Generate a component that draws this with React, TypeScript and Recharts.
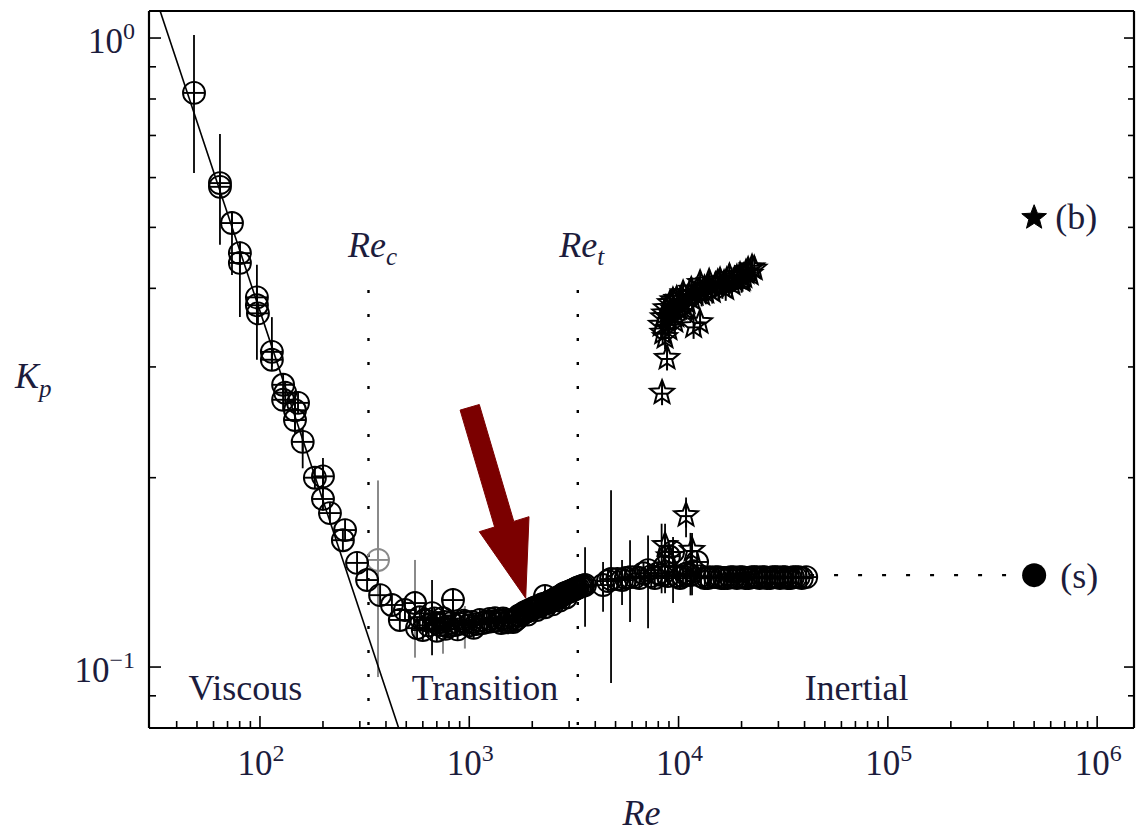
import React from 'react';
import { ScatterChart, Scatter, XAxis, YAxis, ErrorBar } from 'recharts';

const W = 1143;
const H = 833;
const FONT = '"Liberation Serif", "Times New Roman", Times, serif';
const INK = '#1c1c3c';

// ---------- axes ----------
const xDomain = [29.5, 1.5e6];
const yDomain = [0.08, 1.104];
const xMajor = [100, 1000, 10000, 100000, 1000000];
const xMajorExp = ['2', '3', '4', '5', '6'];
const xMinor = [40, 50, 60, 70, 80, 90, 200, 300, 400, 500, 600, 700, 800, 900, 2000, 3000, 4000, 5000, 6000, 7000, 8000, 9000,
  20000, 30000, 40000, 50000, 60000, 70000, 80000, 90000, 200000, 300000, 400000, 500000, 600000, 700000, 800000, 900000];
const yMajor = [0.1, 1];
const yMajorExp = ['\u22121', '0'];
const yMinor = [0.09, 0.2, 0.3, 0.4, 0.5, 0.6, 0.7, 0.8, 0.9];

// ---------- series (s): circles ----------
const viscRe = [48.4, 64.4, 64.4, 73.5, 80.2, 80.2, 96.7, 96.7, 97.8, 114, 114, 129, 132, 129, 147, 147, 152, 160, 183, 200, 200, 216, 255, 249];
const viscKp = [0.818, 0.588, 0.580, 0.508, 0.455, 0.439, 0.387, 0.376, 0.365, 0.317, 0.308, 0.281, 0.273, 0.266, 0.256, 0.247, 0.263, 0.228, 0.200, 0.201, 0.185, 0.1757, 0.1651, 0.1591];
const viscLo = [0.610, 0.469, null, 0.42, 0.360, null, 0.308, null, null, 0.30, null, null, null, null, 0.235, null, null, 0.207, null, 0.19, null, null, null, null];
const viscHi = [1.011, 0.704, null, 0.53, 0.475, null, 0.436, null, null, 0.36, null, null, null, null, 0.275, null, null, 0.24, null, 0.215, null, null, null, null];

const transRe = [291, 325, 375, 427, 466, 493, 563, 614, 664, 700, 725, 790, 836, 855, 900, 1000, 1030, 1080, 1124, 1214, 1280, 1327, 1420, 1481, 1560, 1619,
  1700, 1741, 1800, 1883, 1960, 2059, 2150, 2250, 2301, 2350, 2437, 2540, 2636, 2750, 2854, 2970, 3090, 3200, 3305, 3440, 3575,
  580, 640, 680, 760, 820, 940, 1160, 1250, 1380, 1450, 1520, 1660, 1720, 1840, 1920, 2000, 2100, 2200, 2400, 2490, 2590, 2700, 2800, 2910,
  3030, 3150, 3250, 3380, 3500, 1900, 2100, 2300, 2500, 2700, 2900, 600, 700, 770, 880, 1050];
const transKp = [0.1464, 0.1375, 0.1301, 0.1255, 0.1188, 0.1232, 0.1153, 0.1188, 0.1218, 0.1175, 0.1166, 0.1160, 0.1278, 0.1166, 0.1172, 0.1165, 0.1179, 0.1170,
  0.1188, 0.1179, 0.1182, 0.1196, 0.1175, 0.1188, 0.1185, 0.1179, 0.1195, 0.1209, 0.1215, 0.1225, 0.1232, 0.1244, 0.1250, 0.1260, 0.1297, 0.1265, 0.1272,
  0.1280, 0.1290, 0.1298, 0.1310, 0.1316, 0.1324, 0.1330, 0.1338, 0.1344, 0.1350,
  0.1200, 0.1165, 0.1195, 0.1180, 0.1175, 0.1185, 0.1175, 0.1192, 0.1185, 0.1195, 0.1178, 0.1188, 0.1205, 0.1222, 0.1230, 0.1238, 0.1246, 0.1255,
  0.1268, 0.1275, 0.1285, 0.1292, 0.1304, 0.1312, 0.1320, 0.1327, 0.1334, 0.1341, 0.1347, 0.1212, 0.1232, 0.1245, 0.1258, 0.1275, 0.1290,
  0.1145, 0.1142, 0.1150, 0.1148, 0.1155];
const transLo = [null, null, null, null, null, null, null, null, 0.1044, null, null, null, 0.118, null, null, null, null, null, null, null, null, null, null, null,
  null, null, null, null, null, null, null, null, null, null, null, null, null, null, null, null, null, null, null, null, null, null, 0.1159];
const transHi = [null, null, null, null, null, null, null, null, 0.1375, null, null, null, 0.1335, null, null, null, null, null, null, null, null, null, null, null,
  null, null, null, null, null, null, null, null, null, null, null, null, null, null, null, null, null, null, null, null, null, null, 0.155];

const grayBarRe = [550.6, 749, 953];
const grayBarKp = [0.1264, 0.1196, 0.1179];
const grayBarLo = [0.1035, 0.105, 0.107];
const grayBarHi = [0.148, 0.130, 0.125];

const grayRe = [366.4];
const grayKp = [0.148];
const grayLo = [0.0964];
const grayHi = [0.198];

const inertRe = [4358, 4758, 5370, 5864, 6500, 7149, 7700, 8300, 8900, 9412, 10160, 10800, 11400, 12260, 13350, 14100, 14960, 16000, 17130, 18300,
  19560, 20900, 22390, 23700, 25070, 26500, 28080, 29700, 31440, 33300, 35210, 37500, 40730,
  4600, 5100, 5600, 6200, 6800, 7400, 8000, 8600, 9000, 9800, 10500, 11000, 11800, 12800, 13800, 15500, 16500, 17700, 19000, 20200, 21600, 23000,
  24400, 25800, 27300, 28900, 30500, 32300, 34200, 36300, 38800];
const inertKp = [0.135, 0.138, 0.1375, 0.139, 0.1385, 0.1426, 0.1385, 0.140, 0.1395, 0.1524, 0.1385, 0.1405, 0.140, 0.1469, 0.1385, 0.139, 0.139, 0.1385,
  0.1385, 0.139, 0.139, 0.1385, 0.139, 0.139, 0.139, 0.1385, 0.139, 0.139, 0.139, 0.1385, 0.139, 0.139, 0.139,
  0.137, 0.138, 0.1385, 0.139, 0.141, 0.1395, 0.141, 0.1445, 0.150, 0.1395, 0.1395, 0.141, 0.142, 0.1395, 0.1385, 0.139, 0.1385, 0.139, 0.1385, 0.139,
  0.1385, 0.139, 0.1385, 0.139, 0.1385, 0.139, 0.1385, 0.139, 0.1385, 0.139, 0.1385];
const inertLo = [0.1224, 0.0943, 0.1255, 0.1179, null, 0.1153, null, 0.131, null, 0.1264, null, null, 0.130];
const inertHi = [0.1469, 0.191, 0.148, 0.1591, null, 0.1619, null, 0.169, null, 0.161, null, null, 0.1634];

// ---------- series (b): stars ----------
const starRe = [8339, 8810, 8620, 8432, 8250, 8700, 9108, 9500, 9800, 10000, 10510, 11000, 11500, 11800, 12000, 12670, 12670, 13300, 14000, 15000,
  15790, 16500, 17500, 18500, 19670, 20500, 21500, 22450, 10400, 13500, 16800, 20000,
  8400, 8550, 8900, 9200, 9400, 9700, 10200, 10700, 11200, 11600, 12300, 12900, 13800, 14500, 15400, 16200, 17000, 18000, 19000, 20200, 21000,
  22000, 23000, 9000, 9600];
const starKp = [0.273, 0.310, 0.3347, 0.360, 0.350, 0.372, 0.379, 0.370, 0.385, 0.372, 0.393, 0.380, 0.398, 0.348, 0.392, 0.408, 0.3535, 0.400, 0.410, 0.405,
  0.412, 0.408, 0.418, 0.413, 0.420, 0.418, 0.428, 0.432, 0.378, 0.395, 0.400, 0.412,
  0.340, 0.365, 0.360, 0.365, 0.383, 0.362, 0.383, 0.372, 0.390, 0.385, 0.398, 0.392, 0.402, 0.396, 0.409, 0.403, 0.412, 0.407, 0.416, 0.414, 0.424,
  0.422, 0.430, 0.345, 0.355];
const starLowRe = [8620, 10860, 11600, 9000];
const starLowKp = [0.1563, 0.1744, 0.1535, 0.150];
const starLowLo = [0.131, 0.1608, 0.130, null];
const starLowHi = [0.169, 0.186, 0.1634, null];

// ---------- lines & annotations ----------
const lawRe = [30, 500];
const lawKp = [1.227, 0.0736];
const critRe = [330, 3300];
const critSub = ['c', 't'];
const critTopKp = 0.3975;
const critLabelKp = 0.4485;
const plateauRe = [42500, 500000];
const plateauKp = [0.14, 0.14];
const legendRe = 500000;
const legendStarKp = 0.518;
const legendCircleKp = 0.14;
const regimeText = ['Viscous', 'Transition', 'Inertial'];
const regimeRe = [85.2, 1189, 70920];
const regimeKp = [0.0886, 0.0886, 0.0886];
const arrowTipRe = 1861;
const arrowTipKp = 0.1286;

type Pt = { x: number; y: number; err?: [number, number]; label?: string };
const build = (re: number[], kp: number[], lo?: (number | null)[], hi?: (number | null)[]): Pt[] =>
  re.map((x, i) => {
    const p: Pt = { x, y: kp[i] };
    const l = lo ? lo[i] : null;
    const h = hi ? hi[i] : null;
    if (l != null && h != null) p.err = [kp[i] - l, h - kp[i]];
    return p;
  });

const viscData = build(viscRe, viscKp, viscLo, viscHi);
const transData = build(transRe, transKp, transLo, transHi);
const grayBarData = build(grayBarRe, grayBarKp, grayBarLo, grayBarHi);
const grayData = build(grayRe, grayKp, grayLo, grayHi);
const inertData = build(inertRe, inertKp, inertLo, inertHi);
const starData = build(starRe, starKp);
const starLowData = build(starLowRe, starLowKp, starLowLo, starLowHi);
const lawData = build(lawRe, lawKp);
const plateauData = build(plateauRe, plateauKp);
const critLines = critRe.map((r) => [{ x: r, y: critTopKp }, { x: r, y: yDomain[0] }]);
const critLabelData = critRe.map((r, i) => ({ x: r, y: critLabelKp, label: critSub[i] }));
const regimeData = regimeText.map((t, i) => ({ x: regimeRe[i], y: regimeKp[i], label: t }));

// ---------- shapes ----------
const Empty = () => <g />;

const circleCross = (color: string) => (props: any) => {
  const { cx, cy } = props;
  if (cx == null || cy == null) return <g />;
  const r = 11;
  return (
    <g stroke={color} strokeWidth={1.9} fill="none">
      <circle cx={cx} cy={cy} r={r} />
      <line x1={cx - r} x2={cx + r} y1={cy} y2={cy} />
      <line x1={cx} x2={cx} y1={cy - r} y2={cy + r} />
    </g>
  );
};

const starPath = (cx: number, cy: number, R: number, r: number) => {
  let d = '';
  for (let i = 0; i < 10; i++) {
    const a = -Math.PI / 2 + (i * Math.PI) / 5;
    const rad = i % 2 === 0 ? R : r;
    d += (i === 0 ? 'M' : 'L') + (cx + rad * Math.cos(a)).toFixed(2) + ',' + (cy + rad * Math.sin(a)).toFixed(2);
  }
  return d + 'Z';
};

const OpenStar = (props: any) => {
  const { cx, cy } = props;
  if (cx == null || cy == null) return <g />;
  const R = 12.5;
  return (
    <g stroke="#000" strokeWidth={2} fill="none">
      <path d={starPath(cx, cy, R, 5.4)} />
      <line x1={cx} x2={cx} y1={cy - R} y2={cy + R} />
      <line x1={cx - 6} x2={cx + 6} y1={cy + 1} y2={cy + 1} />
    </g>
  );
};

const LegendStar = (props: any) => {
  const { cx, cy } = props;
  return (
    <g>
      <path d={starPath(cx, cy, 13, 5.6)} fill="#000" stroke="#000" strokeWidth={1} />
      <text x={cx + 21} y={cy + 11} fontFamily={FONT} fontSize={36} fill={INK}>(b)</text>
    </g>
  );
};

const LegendCircle = (props: any) => {
  const { cx, cy } = props;
  return (
    <g>
      <circle cx={cx} cy={cy} r={12} fill="#000" />
      <text x={cx + 26} y={cy + 13} fontFamily={FONT} fontSize={36} fill={INK}>(s)</text>
    </g>
  );
};

const labelOf = (props: any) => (props.payload && props.payload.label) || props.label || '';

const RegimeText = (props: any) => (
  <text x={props.cx} y={props.cy} textAnchor="middle" fontFamily={FONT} fontSize={36} fill={INK}>{labelOf(props)}</text>
);

const CritText = (props: any) => (
  <text x={props.cx + 4} y={props.cy} textAnchor="middle" fontFamily={FONT} fontStyle="italic" fontSize={36} fill={INK}>
    Re<tspan dy={8} fontSize={25}>{labelOf(props)}</tspan>
  </text>
);

const Arrow = (props: any) => {
  const { cx, cy } = props;
  const pts = [
    [-65.6, -188.2], [-46.4, -193.8], [-11.9, -76.9], [3.3, -81.6], [0, 0], [-46.4, -66.6], [-31.1, -71.3],
  ].map(([dx, dy]) => `${(cx + dx).toFixed(1)},${(cy + dy).toFixed(1)}`).join(' ');
  return <polygon points={pts} fill="#7b0000" stroke="#7b0000" strokeWidth={1} />;
};

// ---------- ticks ----------
const xTick = (side: 'bottom' | 'top') => (props: any) => {
  const { x, y, payload } = props;
  const idx = xMajor.indexOf(payload.value);
  const major = idx >= 0;
  const len = side === 'bottom' ? (major ? 12 : 7) : (major ? 10 : 6);
  const dir = side === 'bottom' ? -1 : 1;
  return (
    <g>
      <line x1={x} x2={x} y1={y} y2={y + dir * len} stroke="#000" strokeWidth={1.6} />
      {side === 'bottom' && major ? (
        <text x={x + 1} y={y + 47} textAnchor="middle" fontFamily={FONT} fontSize={35} fill={INK}>
          10<tspan dy={-14} fontSize={24}>{xMajorExp[idx]}</tspan>
        </text>
      ) : null}
    </g>
  );
};

const yTick = (side: 'left' | 'right') => (props: any) => {
  const { x, y, payload } = props;
  const idx = yMajor.indexOf(payload.value);
  const major = idx >= 0;
  const len = side === 'left' ? (major ? 12 : 7) : (major ? 10 : 6);
  const dir = side === 'left' ? 1 : -1;
  return (
    <g>
      <line x1={x} x2={x + dir * len} y1={y} y2={y} stroke="#000" strokeWidth={1.6} />
      {side === 'left' && major ? (
        <text x={x - 14} y={y + 15} textAnchor="end" fontFamily={FONT} fontSize={35} fill={INK}>
          10<tspan dy={-14} fontSize={24}>{yMajorExp[idx]}</tspan>
        </text>
      ) : null}
    </g>
  );
};

const xTicks = [...xMinor, ...xMajor].sort((a, b) => a - b);
const yTicks = [...yMinor, ...yMajor].sort((a, b) => a - b);

const ReTitle = (props: any) => {
  const vb = props.viewBox || {};
  return (
    <text x={vb.x + vb.width / 2} y={vb.y + 97} textAnchor="middle" fontFamily={FONT} fontStyle="italic" fontSize={36} fill={INK}>Re</text>
  );
};

const KpTitle = (props: any) => {
  const vb = props.viewBox || {};
  return (
    <text x={vb.x + 15} y={vb.y + vb.height / 2 + 18.5} fontFamily={FONT} fontStyle="italic" fontSize={36} fill={INK}>
      K<tspan dy={9} fontSize={25}>p</tspan>
    </text>
  );
};

const axisLine = { stroke: '#000', strokeWidth: 2.2 };

export default function App() {
  return (
    <div style={{ position: 'absolute', left: 0, top: 0, width: W, height: H, background: '#fff' }}>
      <ScatterChart width={W} height={H} margin={{ top: 0, right: 0, bottom: 0, left: 0 }}>
        <XAxis xAxisId={0} dataKey="x" type="number" scale="log" domain={xDomain} allowDataOverflow ticks={xTicks} interval={0}
          tick={xTick('bottom')} tickLine={false} tickSize={0} tickMargin={0} axisLine={axisLine} height={105} label={ReTitle} />
        <XAxis xAxisId="top" orientation="top" type="number" scale="log" domain={xDomain} allowDataOverflow ticks={xTicks} interval={0}
          tick={xTick('top')} tickLine={false} tickSize={0} tickMargin={0} axisLine={axisLine} height={11} />
        <YAxis yAxisId={0} dataKey="y" type="number" scale="log" domain={yDomain} allowDataOverflow ticks={yTicks} interval={0}
          tick={yTick('left')} tickLine={false} tickSize={0} tickMargin={0} axisLine={axisLine} width={149} label={KpTitle} />
        <YAxis yAxisId="right" orientation="right" type="number" scale="log" domain={yDomain} allowDataOverflow ticks={yTicks} interval={0}
          tick={yTick('right')} tickLine={false} tickSize={0} tickMargin={0} axisLine={axisLine} width={9} />

        <Scatter data={lawData} shape={Empty} line={{ stroke: '#000', strokeWidth: 1.6 }} isAnimationActive={false} />
        {critLines.map((seg, i) => (
          <Scatter key={'crit' + i} data={seg} shape={Empty} line={{ stroke: '#000', strokeWidth: 2.4, strokeDasharray: '3 21' }} isAnimationActive={false} />
        ))}
        <Scatter data={plateauData} shape={Empty} line={{ stroke: '#000', strokeWidth: 2.2, strokeDasharray: '4 20' }} isAnimationActive={false} />

        <Scatter data={grayData} shape={circleCross('#8a8a8a')} isAnimationActive={false}>
          <ErrorBar dataKey="err" direction="y" width={0} stroke="#8a8a8a" strokeWidth={2} />
        </Scatter>
        <Scatter data={viscData} shape={circleCross('#000')} isAnimationActive={false}>
          <ErrorBar dataKey="err" direction="y" width={0} stroke="#000" strokeWidth={1.8} />
        </Scatter>
        <Scatter data={grayBarData} shape={circleCross('#000')} isAnimationActive={false}>
          <ErrorBar dataKey="err" direction="y" width={0} stroke="#8a8a8a" strokeWidth={2} />
        </Scatter>
        <Scatter data={transData} shape={circleCross('#000')} isAnimationActive={false}>
          <ErrorBar dataKey="err" direction="y" width={0} stroke="#000" strokeWidth={1.8} />
        </Scatter>
        <Scatter data={inertData} shape={circleCross('#000')} isAnimationActive={false}>
          <ErrorBar dataKey="err" direction="y" width={0} stroke="#000" strokeWidth={1.8} />
        </Scatter>
        <Scatter data={starData} shape={OpenStar} isAnimationActive={false} />
        <Scatter data={starLowData} shape={OpenStar} isAnimationActive={false}>
          <ErrorBar dataKey="err" direction="y" width={0} stroke="#000" strokeWidth={1.8} />
        </Scatter>

        <Scatter data={[{ x: legendRe, y: legendStarKp }]} shape={LegendStar} isAnimationActive={false} />
        <Scatter data={[{ x: legendRe, y: legendCircleKp }]} shape={LegendCircle} isAnimationActive={false} />
        <Scatter data={regimeData} shape={RegimeText} isAnimationActive={false} />
        <Scatter data={critLabelData} shape={CritText} isAnimationActive={false} />
        <Scatter data={[{ x: arrowTipRe, y: arrowTipKp }]} shape={Arrow} isAnimationActive={false} />
      </ScatterChart>
    </div>
  );
}
